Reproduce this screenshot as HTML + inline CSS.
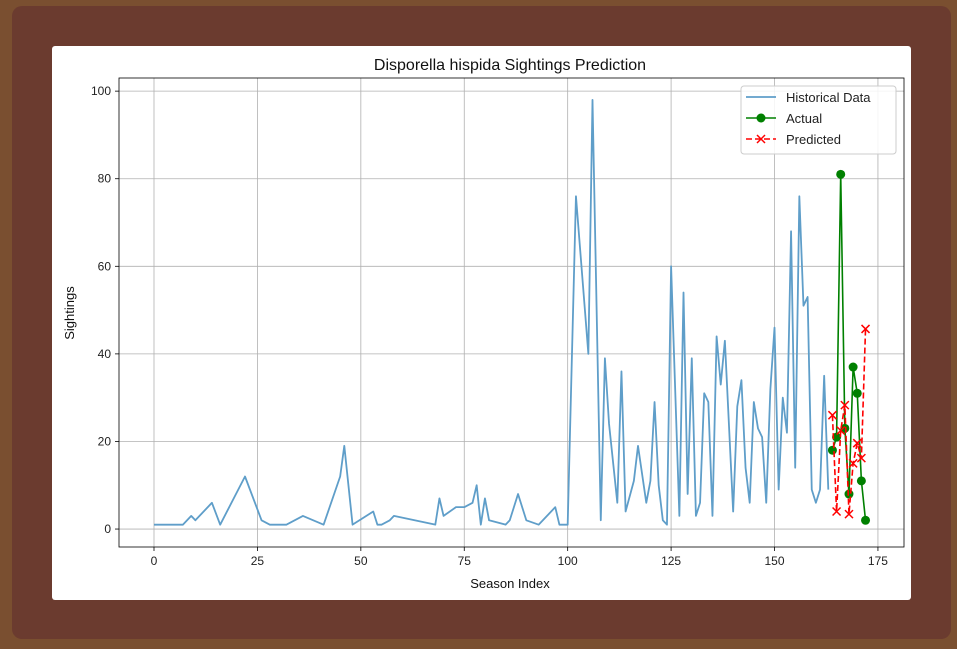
<!DOCTYPE html>
<html><head><meta charset="utf-8"><style>
body{margin:0;width:957px;height:649px;background:#7a4f30;overflow:hidden;font-family:"Liberation Sans","DejaVu Sans",sans-serif}
#frame{position:absolute;left:12px;top:6px;width:939px;height:633px;background:#6b3b2f;border-radius:10px}
#card{position:absolute;left:52px;top:46px;width:859px;height:554px;background:#fff;border-radius:3px}
svg{position:absolute;left:0;top:0}
</style></head><body>
<div id="frame"></div>
<div id="card"></div>
<svg id="chart" width="957" height="649"></svg>
<script>
const histX=[0,7,9,10,14,16,22,26,28,32,36,41,45,46,48,53,54,55,57,58,68,69,70,73,75,77,78,79,80,81,85,86,88,90,93,97,98,100,102,105,106,108,109,110,112,113,114,116,117,119,120,121,122,123,124,125,127,128,129,130,131,132,133,134,135,136,137,138,140,141,142,143,144,145,146,147,148,149,150,151,152,153,154,155,156,157,158,159,160,161,162,163];
const histY=[1,1,3,2,6,1,12,2,1,1,3,1,12,19,1,4,1,1,2,3,1,7,3,5,5,6,10,1,7,2,1,2,8,2,1,5,1,1,76,40,98,2,39,24,6,36,4,11,19,6,11,29,10,2,1,60,3,54,8,39,3,6,31,29,3,44,33,43,4,28,34,14,6,29,23,21,6,32,46,9,30,22,68,14,76,51,53,9,6,9,35,9];
const testX=[164,165,166,167,168,169,170,171,172];
const actualY=[18,21,81,23,8,37,31,11,2];
const predY=[26,4,22.5,28.3,3.4,15,19.6,16.2,45.7];
const xTicks=[0,25,50,75,100,125,150,175];
const yTicks=[0,20,40,60,80,100];
const L=119,R=904,T=78,B=547;
const xmin=-8.46,xmax=181.3,ymin=-4.1,ymax=103.0;
const sx=v=>L+(v-xmin)/(xmax-xmin)*(R-L);
const sy=v=>B-(v-ymin)/(ymax-ymin)*(B-T);
const svg=document.getElementById('chart');
const NS='http://www.w3.org/2000/svg';
function mk(tag,attrs,parent){const e=document.createElementNS(NS,tag);for(const k in attrs)e.setAttribute(k,attrs[k]);(parent||svg).appendChild(e);return e;}
const grid=mk('g',{});


xTicks.forEach(t=>{
  mk('line',{x1:sx(t),x2:sx(t),y1:T,y2:B,stroke:'#b0b0b0','stroke-width':0.8},grid);
  mk('line',{x1:sx(t),x2:sx(t),y1:B,y2:B+4,stroke:'#000','stroke-width':0.8});
  const tx=mk('text',{x:sx(t),y:B+18,'text-anchor':'middle','font-size':12,fill:'#222'});
  tx.textContent=t;
  
  
});
yTicks.forEach(t=>{
  mk('line',{x1:L,x2:R,y1:sy(t),y2:sy(t),stroke:'#b0b0b0','stroke-width':0.8},grid);
  mk('line',{x1:L-4,x2:L,y1:sy(t),y2:sy(t),stroke:'#000','stroke-width':0.8});
  const tx=mk('text',{x:L-8,y:sy(t)+4,'text-anchor':'end','font-size':12,fill:'#222'});
  tx.textContent=t;
  
  
});
const hist=mk('polyline',{points:histX.map((x,i)=>sx(x)+','+sy(histY[i])).join(' '),fill:'none',stroke:'#5f9ec9','stroke-width':1.8,'stroke-linejoin':'round'});


const act=mk('polyline',{points:testX.map((x,i)=>sx(x)+','+sy(actualY[i])).join(' '),fill:'none',stroke:'#008000','stroke-width':1.6});


testX.forEach((x,i)=>{
  const c=mk('circle',{cx:sx(x),cy:sy(actualY[i]),r:4.5,fill:'#008000'});
  
  
});
const pred=mk('polyline',{points:testX.map((x,i)=>sx(x)+','+sy(predY[i])).join(' '),fill:'none',stroke:'#ff0000','stroke-width':1.6,'stroke-dasharray':'6,3'});


testX.forEach((x,i)=>{
  const X=sx(x),Y=sy(predY[i]);
  const g=mk('path',{d:`M${X-4},${Y-4}L${X+4},${Y+4}M${X-4},${Y+4}L${X+4},${Y-4}`,stroke:'#ff0000','stroke-width':1.5});
  
  
});
mk('rect',{x:L,y:T,width:R-L,height:B-T,fill:'none',stroke:'#000','stroke-width':0.8});
</script>
<svg width="957" height="649" style="position:absolute;left:0;top:0">
<text x="510" y="70" text-anchor="middle" font-size="16" fill="#111">Disporella hispida Sightings Prediction</text>
<text x="510" y="588" text-anchor="middle" font-size="13" fill="#111">Season Index</text>
<text x="74" y="313" text-anchor="middle" font-size="13" fill="#111" transform="rotate(-90 74 313)">Sightings</text>
<g>
<rect x="741" y="86" width="155" height="68" rx="3" fill="#fff" fill-opacity="0.85" stroke="#ccc"/>
<line x1="746" y1="97" x2="776" y2="97" stroke="#5f9ec9" stroke-width="1.8"/>
<text x="786" y="102" font-size="13" fill="#222">Historical Data</text>
<line x1="746" y1="118" x2="776" y2="118" stroke="#008000" stroke-width="1.6"/>
<circle cx="761" cy="118" r="4.5" fill="#008000"/>
<text x="786" y="123" font-size="13" fill="#222">Actual</text>
<line x1="746" y1="139" x2="776" y2="139" stroke="#ff0000" stroke-width="1.6" stroke-dasharray="6,3"/>
<path d="M757,135L765,143M757,143L765,135" stroke="#ff0000" stroke-width="1.5"/>
<text x="786" y="144" font-size="13" fill="#222">Predicted</text>
</g>
</svg>
</body></html>
